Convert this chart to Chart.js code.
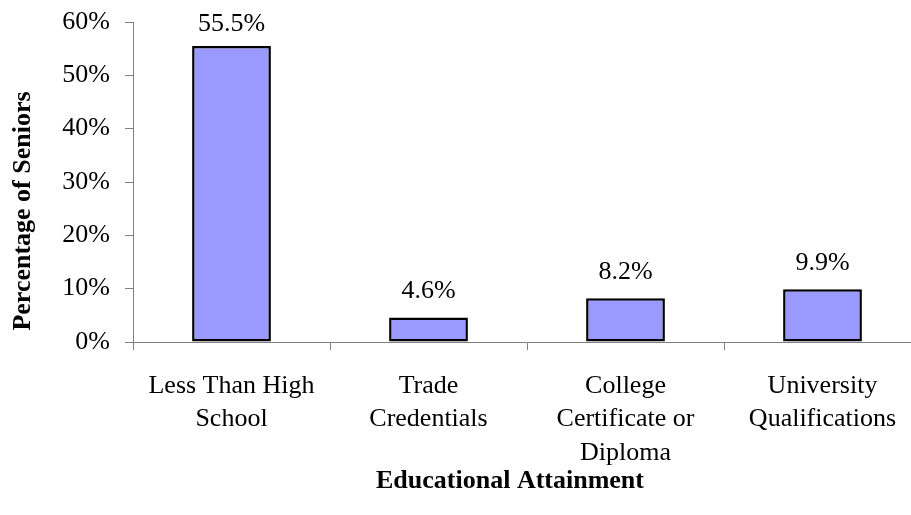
<!DOCTYPE html>
<html>
<head>
<meta charset="utf-8">
<script src="https://cdn.jsdelivr.net/npm/chart.js@4/dist/chart.umd.min.js"></script>
<style>
  html, body { margin: 0; padding: 0; background: #fff; overflow: hidden; }
  #wrap { width: 930px; height: 515px; }
</style>
</head>
<body>
<div id="wrap"><canvas id="eduChart"></canvas></div>
<script>
// Datos del gráfico
const categorias = [
    ["Less Than High", "School"],
    ["Trade", "Credentials"],
    ["College", "Certificate or", "Diploma"],
    ["University", "Qualifications"]
];
const porcentajes = [55.5, 4.6, 8.2, 9.9];
const ticksY = [0, 10, 20, 30, 40, 50, 60];

const fuente = "'Liberation Serif', 'Times New Roman', serif";

// Etiquetas de valor encima de cada barra y títulos de ejes
const etiquetas = {
    id: 'etiquetas',
    afterDraw(chart) {
        const ctx = chart.ctx;
        const meta = chart.getDatasetMeta(0);
        ctx.save();
        ctx.fillStyle = '#000';
        ctx.font = '26px ' + fuente;
        ctx.textAlign = 'center';
        ctx.textBaseline = 'middle';
        meta.data.forEach((bar, i) => {
            const y = Math.max(bar.y - 26, 24);
            ctx.fillText(porcentajes[i].toFixed(1) + '%', bar.x, y);
        });

        ctx.font = 'bold 26px ' + fuente;
        ctx.fillText('Educational Attainment', 510, 481);

        ctx.translate(23, 211);
        ctx.rotate(-Math.PI / 2);
        ctx.fillText('Percentage of Seniors', 0, 0);
        ctx.restore();
    }
};

const ctxEdu = document.getElementById('eduChart').getContext('2d');
new Chart(ctxEdu, {
    type: 'bar',
    data: {
        labels: categorias,
        datasets: [{
            data: porcentajes,
            backgroundColor: '#9999ff',
            borderColor: '#000',
            borderWidth: 2.5,
            borderSkipped: false,
            barPercentage: 0.4,
            categoryPercentage: 1
        }]
    },
    options: {
        responsive: true,
        maintainAspectRatio: false,
        animation: false,
        layout: { padding: { top: 22, right: 9, left: 0, bottom: 0 } },
        plugins: {
            legend: { display: false },
            tooltip: { enabled: false }
        },
        scales: {
            x: {
                offset: true,
                grid: {
                    offset: true,
                    drawOnChartArea: false,
                    drawTicks: true,
                    tickLength: 8,
                    color: '#808080'
                },
                border: { color: '#808080', width: 1 },
                ticks: {
                    color: '#000',
                    padding: 19,
                    maxRotation: 0,
                    autoSkip: false,
                    font: { family: fuente, size: 26, lineHeight: 1.29 }
                },
                afterFit(scale) { scale.height = 173; }
            },
            y: {
                min: 0,
                max: 60,
                afterBuildTicks(scale) {
                    scale.ticks = ticksY.map(v => ({ value: v }));
                },
                grid: {
                    drawOnChartArea: false,
                    drawTicks: true,
                    tickLength: 8,
                    color: '#808080'
                },
                border: { color: '#808080', width: 1 },
                ticks: {
                    color: '#000',
                    padding: 15,
                    font: { family: fuente, size: 26 },
                    callback: v => v + '%'
                },
                afterFit(scale) {
                    scale.width = 133;
                    scale.paddingTop = 0;
                    scale.paddingBottom = 0;
                }
            }
        }
    },
    plugins: [etiquetas]
});
</script>
</body>
</html>
